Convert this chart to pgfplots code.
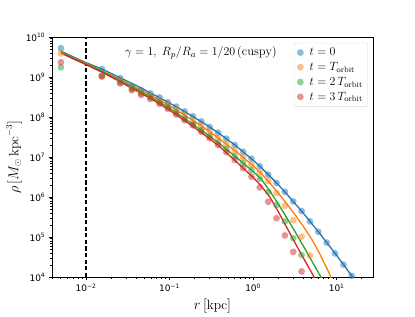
\documentclass[border=0pt]{standalone}
\usepackage{fontspec}
\usepackage{pgfplots}
\pgfplotsset{compat=1.18}
\newfontfamily\dejavu{DejaVu Sans}
\definecolor{tabblue}{RGB}{31,119,180}
\definecolor{taborange}{RGB}{255,127,14}
\definecolor{tabgreen}{RGB}{44,160,44}
\definecolor{tabred}{RGB}{214,39,40}
\begin{document}
\begin{tikzpicture}
\begin{axis}[
  xmode=log, ymode=log,
  width=321bp, height=240bp, scale only axis,
  xmin=0.00392, xmax=27.2, ymin=1e4, ymax=1e10,
  xtick={0.01,0.1,1,10},
  xticklabels={10\textsuperscript{−2},10\textsuperscript{−1},10\textsuperscript{0},10\textsuperscript{1}},
  ytick={1e4,1e5,1e6,1e7,1e8,1e9,1e10},
  yticklabels={10\textsuperscript{4},10\textsuperscript{5},10\textsuperscript{6},10\textsuperscript{7},10\textsuperscript{8},10\textsuperscript{9},10\textsuperscript{10}},
  minor xtick={0.004,0.005,0.006,0.007,0.008,0.009,0.02,0.03,0.04,0.05,0.06,0.07,0.08,0.09,0.2,0.3,0.4,0.5,0.6,0.7,0.8,0.9,2,3,4,5,6,7,8,9,20},
  minor ytick={2e4,3e4,4e4,5e4,6e4,7e4,8e4,9e4,2e5,3e5,4e5,5e5,6e5,7e5,8e5,9e5,2e6,3e6,4e6,5e6,6e6,7e6,8e6,9e6,2e7,3e7,4e7,5e7,6e7,7e7,8e7,9e7,2e8,3e8,4e8,5e8,6e8,7e8,8e8,9e8,2e9,3e9,4e9,5e9,6e9,7e9,8e9,9e9},
  tick align=outside, tick pos=left,
  major tick length=3.2bp, minor tick length=1.8bp,
  tick style={black, line width=0.7bp},
  axis line style={line width=0.75bp},
  ticklabel style={font=\dejavu\fontsize{9}{10}\selectfont},
  xlabel={$r\,[\mathrm{kpc}]$},
  ylabel={$\rho\,[M_\odot\,\mathrm{kpc}^{-3}]$},
  label style={font=\fontsize{13.5}{15}\selectfont},
  ylabel shift={-3bp},
  legend style={at={(rel axis cs:0.9844,0.976)}, anchor=north east,
    draw=black!15, rounded corners=2bp, fill=white,
    font=\fontsize{12}{14}\selectfont, inner xsep=3bp, inner ysep=3bp,
    row sep=1.2bp,
    /tikz/every odd column/.append style={column sep=4bp}},
  legend image code/.code={\draw[mark repeat=2,mark phase=2,#1] plot coordinates {(0cm,0cm) (0.42cm,0cm) (0.84cm,0cm)};},
  legend cell align=left,
]
% dashed marker radius
\addplot[black, dash pattern=on 4.2bp off 2.4bp, line width=1.3bp, forget plot] coordinates {(0.01,1e4) (0.01,1e10)};

% data points
\addplot[only marks, mark=*, mark size=3.4bp, mark options={fill=tabblue, draw opacity=0, fill opacity=0.5}] coordinates {
(0.00501,5.248e9) (0.01549,1.585e9) (0.0257,9.333e8) (0.03548,5.754e8) (0.04571,4.677e8)
(0.05888,3.890e8) (0.07586,3.090e8) (0.0955,2.344e8) (0.1202,1.820e8) (0.1514,1.380e8)
(0.1905,1.047e8) (0.2399,7.762e7) (0.302,5.623e7) (0.3802,4.074e7) (0.4786,2.884e7)
(0.6026,1.995e7) (0.7586,1.349e7) (0.955,9.120e6) (1.202,5.888e6) (1.514,3.631e6)
(1.905,2.239e6) (2.399,1.349e6) (3.02,7.762e5) (3.802,4.467e5) (4.786,2.455e5)
(6.026,1.349e5) (7.586,7.244e4) (9.55,3.890e4) (12.02,2.042e4) (15.14,1.072e4)};
\addlegendentry{$t=0$}
\addplot[only marks, mark=*, mark size=3.4bp, mark options={fill=taborange, draw opacity=0, fill opacity=0.5}] coordinates {
(0.00501,3.890e9) (0.01549,1.072e9) (0.0257,7.943e8) (0.03548,5.370e8) (0.04571,4.266e8)
(0.05888,3.388e8) (0.07586,2.630e8) (0.0955,1.995e8) (0.1202,1.514e8) (0.1514,1.122e8)
(0.1905,8.128e7) (0.2399,6.026e7) (0.302,4.266e7) (0.3802,3.020e7) (0.4786,2.089e7)
(0.6026,1.445e7) (0.7586,9.772e6) (0.955,6.457e6) (1.202,4.169e6) (1.514,2.512e6)
(1.905,1.259e6) (2.399,6.026e5) (3.02,2.630e5) (3.802,1.023e5) (4.786,3.467e4)};
\addlegendentry{$t=T_{\mathrm{orbit}}$}
\addplot[only marks, mark=*, mark size=3.4bp, mark options={fill=tabgreen, draw opacity=0, fill opacity=0.5}] coordinates {
(0.00501,1.738e9) (0.01549,1.072e9) (0.0257,7.244e8) (0.03548,5.012e8) (0.04571,3.890e8)
(0.05888,3.090e8) (0.07586,2.344e8) (0.0955,1.778e8) (0.1202,1.288e8) (0.1514,9.120e7)
(0.1905,6.607e7) (0.2399,4.677e7) (0.302,3.311e7) (0.3802,2.291e7) (0.4786,1.585e7)
(0.6026,1.047e7) (0.7586,7.079e6) (0.955,4.677e6) (1.202,2.884e6) (1.514,1.349e6)
(1.905,6.310e5) (2.399,2.455e5) (3.02,9.333e4) (3.802,3.548e4)};
\addlegendentry{$t=2\,T_{\mathrm{orbit}}$}
\addplot[only marks, mark=*, mark size=3.4bp, mark options={fill=tabred, draw opacity=0, fill opacity=0.5}] coordinates {
(0.00501,2.344e9) (0.01549,1.023e9) (0.0257,6.918e8) (0.03548,4.677e8) (0.04571,3.548e8)
(0.05888,2.818e8) (0.07586,2.138e8) (0.0955,1.585e8) (0.1202,1.148e8) (0.1514,8.318e7)
(0.1905,6.166e7) (0.2399,4.266e7) (0.302,2.951e7) (0.3802,1.995e7) (0.4786,1.318e7)
(0.6026,8.511e6) (0.7586,5.248e6) (0.955,3.236e6) (1.202,1.738e6) (1.514,7.586e5)
(1.905,2.951e5) (2.399,1.096e5) (3.02,4.266e4) (3.802,1.380e4)};
\addlegendentry{$t=3\,T_{\mathrm{orbit}}$}

% fitted profiles
\addplot[tabblue, line width=1.3bp, forget plot] coordinates {
(0.005012,4.467e9) (0.007079,3.162e9) (0.01,2.291e9) (0.01585,1.549e9) (0.02512,9.772e8)
(0.03981,6.166e8) (0.0631,3.715e8) (0.1,2.239e8) (0.1585,1.288e8) (0.2512,7.244e7)
(0.3981,3.802e7) (0.631,1.862e7) (1,8.318e6) (1.259,5.370e6) (1.585,3.311e6)
(1.995,2.042e6) (2.512,1.202e6) (3.162,6.918e5) (3.981,3.981e5) (5.012,2.188e5)
(6.31,1.202e5) (7.943,6.457e4) (10,3.467e4) (12.59,1.820e4) (15.85,9.333e3) (17.78,6.761e3)};
\addplot[taborange, line width=1.3bp, forget plot] coordinates {
(0.005012,4.266e9) (0.007079,3.020e9) (0.01,2.188e9) (0.01585,1.413e9) (0.02512,8.913e8)
(0.03981,5.495e8) (0.0631,3.311e8) (0.1,1.905e8) (0.1585,1.047e8) (0.2512,5.623e7)
(0.3981,2.818e7) (0.631,1.349e7) (1,6.026e6) (1.259,3.802e6) (1.585,2.239e6)
(1.995,1.259e6) (2.512,6.918e5) (3.162,3.631e5) (3.981,1.862e5) (5.012,8.913e4)
(6.31,3.715e4) (7.943,1.380e4) (8.913,7.943e3) (10,4.169e3)};
\addplot[tabgreen, line width=1.3bp, forget plot] coordinates {
(0.005012,4.169e9) (0.007079,2.951e9) (0.01,2.138e9) (0.01585,1.349e9) (0.02512,8.318e8)
(0.03981,5.012e8) (0.0631,2.951e8) (0.1,1.660e8) (0.1585,8.511e7) (0.2512,4.365e7)
(0.3981,2.138e7) (0.631,9.772e6) (1,4.365e6) (1.259,2.754e6) (1.585,1.413e6)
(1.995,6.761e5) (2.512,3.090e5) (3.162,1.380e5) (3.981,6.026e4) (5.012,2.570e4)
(6.31,1.096e4) (7.943,4.571e3)};
\addplot[tabred, line width=1.3bp, forget plot] coordinates {
(0.005012,3.981e9) (0.007079,2.818e9) (0.01,2.042e9) (0.01585,1.288e9) (0.02512,7.762e8)
(0.03981,4.571e8) (0.0631,2.692e8) (0.1,1.479e8) (0.1585,7.586e7) (0.2512,3.802e7)
(0.3981,1.820e7) (0.631,7.586e6) (1,3.090e6) (1.259,1.862e6) (1.585,1.000e6)
(1.995,4.365e5) (2.512,1.778e5) (3.162,7.244e4) (3.981,3.020e4) (5.012,1.288e4)
(6.31,5.370e3)};

\node[anchor=west, font=\fontsize{12.5}{14}\selectfont, inner sep=0pt] at (rel axis cs:0.227,0.933) {$\gamma=1,\;R_p/R_a=1/20\,(\mathrm{cuspy})$};
\end{axis}
\path ([shift={(-52bp,-34bp)}]current axis.south west) rectangle ([shift={(42bp,37bp)}]current axis.north east);
\end{tikzpicture}
\end{document}
